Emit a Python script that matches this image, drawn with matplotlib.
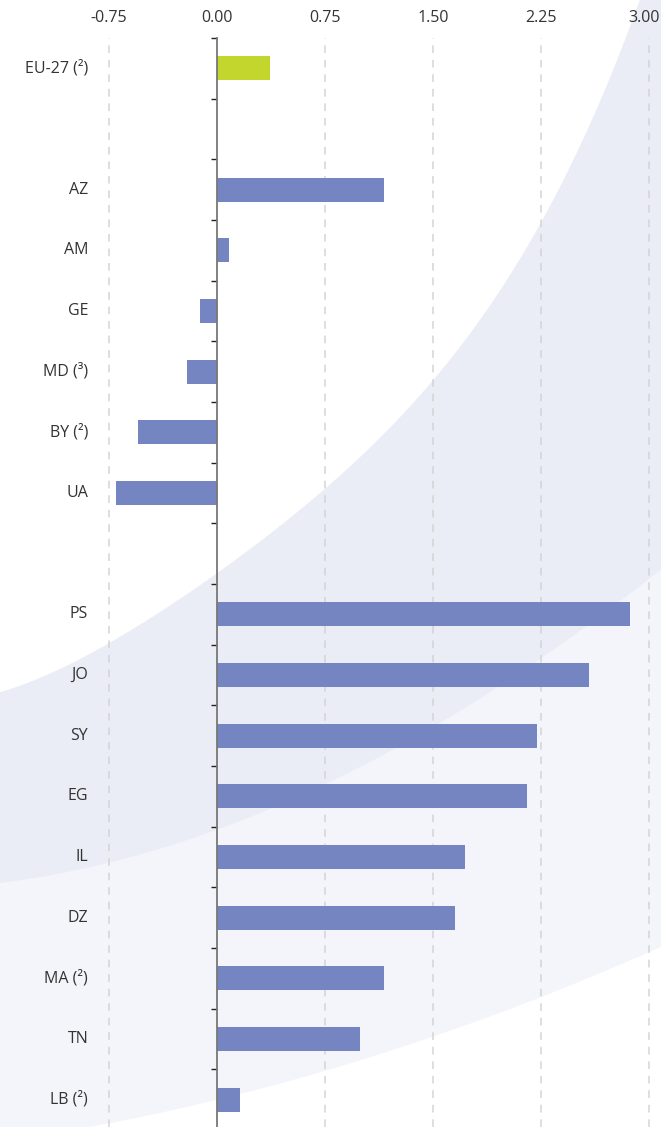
import numpy as np
import matplotlib
matplotlib.use('Agg')
import matplotlib.pyplot as plt
from matplotlib.patches import Polygon
import matplotlib.transforms as mtransforms

plt.rcParams['font.family'] = ['Open Sans', 'DejaVu Sans']

# data, top to bottom; None marks an empty separator row
labels = ['EU-27 (²)', None, 'AZ', 'AM', 'GE', 'MD (³)', 'BY (²)', 'UA', None,
          'PS', 'JO', 'SY', 'EG', 'IL', 'DZ', 'MA (²)', 'TN', 'LB (²)']
values = [0.37, None, 1.16, 0.08, -0.12, -0.21, -0.55, -0.70, None,
          2.87, 2.58, 2.22, 2.15, 1.72, 1.65, 1.16, 0.99, 0.16]
xticks = [-0.75, 0.00, 0.75, 1.50, 2.25, 3.00]

W, H = 661, 1127
fig = plt.figure(figsize=(W / 100, H / 100), dpi=100)


def smooth(pts, x0, x1, deg=3):
    # smooth decorative curve y(x) through the traced points
    p = np.array(pts, dtype=float)
    c = np.polyfit(p[:, 0], p[:, 1], deg)
    xs = np.linspace(x0, x1, 200)
    return list(zip(xs, np.polyval(c, xs)))


# decorative background swooshes (pixel coordinates)
bg = fig.add_axes([0, 0, 1, 1], zorder=0)
bg.set_xlim(0, W)
bg.set_ylim(H, 0)
bg.axis('off')
c1 = smooth([(640, 0), (585, 133), (537, 233), (473, 333), (410, 400), (290, 520),
             (217, 575), (180, 600), (110, 640), (0, 693)], 0, 660, 4)
c2 = smooth([(0, 885), (110, 857), (300, 803), (437, 720), (661, 570)], 0, W, 3)
c3 = smooth([(661, 947), (540, 997), (433, 1037), (300, 1078), (110, 1123), (90, 1127)],
            60, W, 2)
bg.add_patch(Polygon(c1 + [(W, 0), (W, H), (0, H)], closed=True, fc='#f4f5fa', ec='none'))
bg.add_patch(Polygon(c1 + [(W, 0)] + c2[::-1], closed=True, fc='#eaedf6', ec='none'))
bg.add_patch(Polygon(c3 + [(W, H + 5), (60, H + 5)], closed=True, fc='white', ec='none'))

# main chart
ax = fig.add_axes([95 / W, 0, (W - 95) / W, (H - 38) / H], zorder=1)
ax.patch.set_alpha(0)
ypos = np.arange(len(labels))
lab_tr = mtransforms.blended_transform_factory(ax.transAxes, ax.transData)
for y, lab, v in zip(ypos, labels, values):
    if v is None:
        continue
    color = '#c3d62e' if lab.startswith('EU') else '#7585c1'
    ax.barh(y, v, height=0.4, color=color, zorder=3)
    ax.text(-0.012, y, lab, transform=lab_tr,
            ha='right', va='center', fontsize=11.5, color='#333333')

ax.set_xlim(-0.847, 3.083)
ax.set_ylim(17.45, -0.5)
ax.xaxis.tick_top()
ax.set_xticks(xticks)
ax.set_xticklabels(['%.2f' % t for t in xticks])
ax.tick_params(axis='x', length=0, pad=9, labelsize=11.5, labelcolor='#333333')
# last label sits against the right edge, nudge it inwards a little
last = ax.get_xticklabels()[-1]
last.set_transform(last.get_transform() + mtransforms.ScaledTranslation(-5 / 100, 0, fig.dpi_scale_trans))
for t in xticks:
    if t != 0:
        ax.axvline(t, color='#d4d4d4', lw=1.1, dashes=(5, 4.5), zorder=1)

for s in ['top', 'right', 'bottom']:
    ax.spines[s].set_visible(False)
ax.spines['left'].set_position(('data', 0))
ax.spines['left'].set_color('#777777')
ax.spines['left'].set_linewidth(1.3)
ax.spines['left'].set_zorder(4)
ax.set_yticks(np.arange(-0.5, 17.5, 1))
ax.set_yticklabels([])
ax.tick_params(axis='y', length=4, width=1, color='#222222')

fig.savefig('out.png', dpi=100)
